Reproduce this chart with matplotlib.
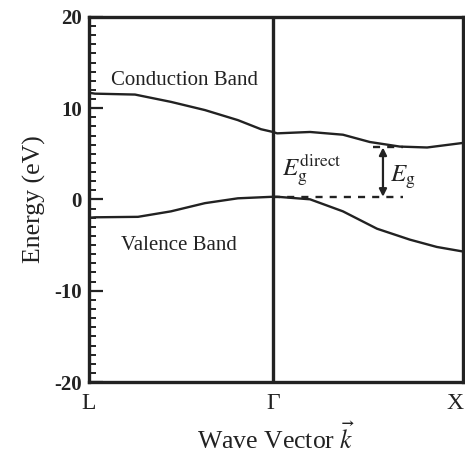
import matplotlib.pyplot as plt

plt.rcParams['font.family'] = ['Liberation Serif', 'DejaVu Serif']
plt.rcParams['mathtext.fontset'] = 'stix'

# wave vector positions (L -> Gamma -> X mapped onto 0..1)
k_gamma = 0.492
k_labels = ['L', 'Γ', 'X']
k_ticks = [0.0, k_gamma, 1.0]

# conduction band
cond_k = [0.0, 0.016, 0.123, 0.219, 0.310, 0.398, 0.460, 0.492,
          0.503, 0.591, 0.679, 0.751, 0.831, 0.904, 1.0]
cond_e = [11.7, 11.6, 11.5, 10.7, 9.8, 8.7, 7.7, 7.4,
          7.25, 7.4, 7.1, 6.3, 5.8, 5.7, 6.2]

# valence band
val_k = [0.0, 0.016, 0.131, 0.219, 0.310, 0.398, 0.492,
         0.503, 0.591, 0.679, 0.770, 0.858, 0.930, 1.0]
val_e = [-2.0, -1.95, -1.9, -1.3, -0.4, 0.13, 0.3,
         0.3, 0.02, -1.3, -3.2, -4.4, -5.2, -5.7]

vb_max = 0.3
cb_min = 5.7

ink = '#222222'

fig = plt.figure(figsize=(4.65, 4.69), dpi=100)
ax = fig.add_axes([89 / 465, 1 - 382 / 469, 374 / 465, 365 / 469])

ax.plot(cond_k, cond_e, color=ink, lw=1.7)
ax.plot(val_k, val_e, color=ink, lw=1.7)
ax.axvline(k_gamma, color=ink, lw=2.4)

# gap markers
ax.plot([k_gamma, 0.84], [vb_max, vb_max], color=ink, lw=1.7, ls=(0, (3, 3)))
ax.plot([0.76, 0.84], [cb_min, cb_min], color=ink, lw=1.7, ls=(0, (3, 3)))
ax.annotate('', xy=(0.786, cb_min), xytext=(0.786, vb_max),
            arrowprops=dict(arrowstyle='<|-|>', color=ink, lw=1.6,
                            mutation_scale=11, shrinkA=0, shrinkB=0))

ax.text(0.06, 13.0, 'Conduction Band', fontsize=15, color=ink, va='center')
ax.text(0.085, -5.0, 'Valence Band', fontsize=15, color=ink, va='center')
ax.text(0.515, 3.3, r'$E_{\mathrm{g}}^{\mathrm{direct}}$', fontsize=18, color=ink, va='center')
ax.text(0.805, 2.4, r'$E_{\mathrm{g}}$', fontsize=18, color=ink, va='center')

ax.set_xlim(0, 1)
ax.set_ylim(-20, 20)
ax.set_xticks(k_ticks)
ax.set_xticklabels(k_labels, fontsize=17, color=ink)
ax.get_xticklabels()[-1].set_horizontalalignment('right')
ax.tick_params(axis='x', length=0, pad=8)

ax.set_yticks([-20, -10, 0, 10, 20])
ax.set_yticks([-15, -5, 5, 15] + [v for v in range(-19, 20) if v % 5], minor=True)
ax.set_yticklabels(['-20', '-10', '0', '10', '20'], fontsize=15, fontweight='bold', color=ink)
ax.tick_params(axis='y', which='major', direction='in', length=10, width=1.6, color=ink, pad=5)
ax.tick_params(axis='y', which='minor', direction='in', length=5, width=1.4, color=ink)

for s in ax.spines.values():
    s.set_linewidth(2.4)
    s.set_color(ink)

ax.set_ylabel('Energy (eV)', fontsize=18.5, color=ink, labelpad=6)
ax.set_xlabel(r'Wave Vector $\vec{k}$', fontsize=18.5, color=ink, labelpad=6)

fig.savefig('out.png', dpi=100)
